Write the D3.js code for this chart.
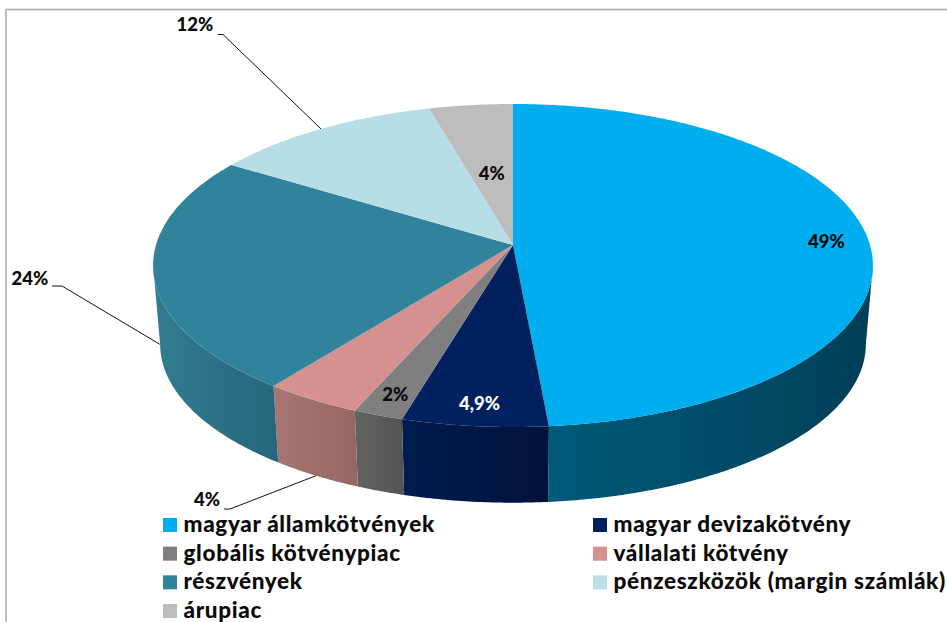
<!DOCTYPE html>
<html><head><meta charset="utf-8">
<style>html,body{margin:0;padding:0;background:#fff}svg{display:block}text{font-family:Lato,"Open Sans",sans-serif;font-weight:900;fill:#0a0a0a}</style>
<script src="https://cdn.jsdelivr.net/npm/d3@7"></script>
</head><body><svg id="c" width="947" height="622"></svg>
<script>
const categories = ["magyar államkötvények","magyar devizakötvény","globális kötvénypiac","vállalati kötvény","részvények","pénzeszközök (margin számlák)","árupiac"];
const sliceValues = [48.6,5.8,2.0,3.9,23.75,11.7,4.25];
const valueLabels = ["49%","4,9%","2%","4%","24%","12%","4%"];
const colors = ["#00aeef","#002060","#7f7f7f","#d59190","#31829b","#b7dde6","#bdbdbd"];
const wallLeft = ["#005a7a","#001c50","#626262","#a87573","#327c92","#b7dde6","#bdbdbd"];
const wallRight = ["#003f57","#00123a","#545454","#946664","#25667a","#b7dde6","#bdbdbd"];

const svg = d3.select("#c"), defs = svg.append("defs");
const W = 947, H = 622;
const persp = -0.127;
const topPlane = {x:513, y:245, bx:357, by:158.9};
const botPlane = {x:513, y:324, bx:350, by:156};
const project = (p, a, r=1) => {
  const u = r*Math.sin(a), v = -r*Math.cos(a), w = 1 + persp*v;
  return [p.x + p.bx*u/w, p.y + p.by*v/w];
};
const line = d3.line();
const arcPts = (p, a0, a1) => {
  const n = Math.max(2, Math.ceil((a1-a0)/0.01));
  return d3.range(n+1).map(i => project(p, a0 + (a1-a0)*i/n));
};
const arcs = d3.pie().sort(null).value(d => d)(sliceValues);
const visA = Math.acos(persp), visStart = visA, visEnd = 2*Math.PI - visA;

svg.append("path").attr("fill","none").attr("stroke","#a8a8a8").attr("stroke-width",1.5)
  .attr("d", line([[6,H],[6,9.5],[W,9.5]]));

// side walls
arcs.forEach((d,i) => {
  const a0 = Math.max(d.startAngle, visStart), a1 = Math.min(d.endAngle, visEnd);
  if (a1 <= a0) return;
  const t = arcPts(topPlane,a0,a1), b = arcPts(botPlane,a0,a1).reverse();
  const xs = t.concat(b).map(q => q[0]);
  const g = defs.append("linearGradient").attr("id","w"+i).attr("gradientUnits","userSpaceOnUse")
    .attr("x1",d3.min(xs)).attr("x2",d3.max(xs)).attr("y1",0).attr("y2",0);
  g.append("stop").attr("offset",0).attr("stop-color",wallLeft[i]);
  g.append("stop").attr("offset",1).attr("stop-color",wallRight[i]);
  svg.append("path").attr("fill",`url(#w${i})`).attr("d", line(t.concat(b))+"Z");
});
// top surface
arcs.forEach((d,i) => {
  const pts = [[topPlane.x,topPlane.y]].concat(arcPts(topPlane,d.startAngle,d.endAngle));
  svg.append("path").attr("fill",colors[i]).attr("d", line(pts)+"Z");
});

const mid = d => (d.startAngle+d.endAngle)/2;
const labelSize = 18.5;
// inside labels: slice index, radial fraction, colour, nudge
[[0,.88,"#0a0a0a",1,3],[1,.885,"#fff",0,1],[2,.885,"#0a0a0a",0,1],[6,.485,"#0a0a0a",0.5,1]].forEach(([i,r,c,nx,ny]) => {
  const [x,y] = project(topPlane, mid(arcs[i]), r);
  svg.append("text").attr("x",x+nx).attr("y",y+ny).attr("dy","0.35em").attr("text-anchor","middle")
    .attr("font-size",labelSize).style("fill",c).text(valueLabels[i]);
});
// outside labels with leader lines; wall = how far down the side the line lands
[
  {i:5,wall:0,knee:[[218,34.5],[223,34.5]],tx:195,ty:25},
  {i:4,wall:.9,knee:[[52,286],[62,286]],tx:30,ty:279},
  {i:3,wall:1,knee:[[224,509],[230,509]],tx:207,ty:499.5}
].forEach(o => {
  const t = project(topPlane, mid(arcs[o.i])), b = project(botPlane, mid(arcs[o.i]));
  const end = [t[0]+(b[0]-t[0])*o.wall, t[1]+(b[1]-t[1])*o.wall];
  svg.append("path").attr("fill","none").attr("stroke","#111").attr("stroke-width",1)
    .attr("d", line(o.knee.concat([end])));
  svg.append("text").attr("x",o.tx).attr("y",o.ty).attr("dy","0.35em").attr("text-anchor","middle")
    .attr("font-size",labelSize).text(valueLabels[o.i]);
});
// legend
const colX = d3.scalePoint().domain([0,1]).range([163,593]);
const rowY = d3.scalePoint().domain([0,1,2,3]).range([518,604]);
categories.forEach((name,i) => {
  const c = i%2, r = Math.floor(i/2);
  svg.append("rect").attr("x",colX(c)).attr("y",rowY(r)).attr("width",14).attr("height",14).attr("fill",colors[i]);
  svg.append("text").attr("x",colX(c)+20.5).attr("y",rowY(r)+14).attr("font-size",22.5)
    .attr("letter-spacing",0.66).text(name);
});
</script></body></html>
